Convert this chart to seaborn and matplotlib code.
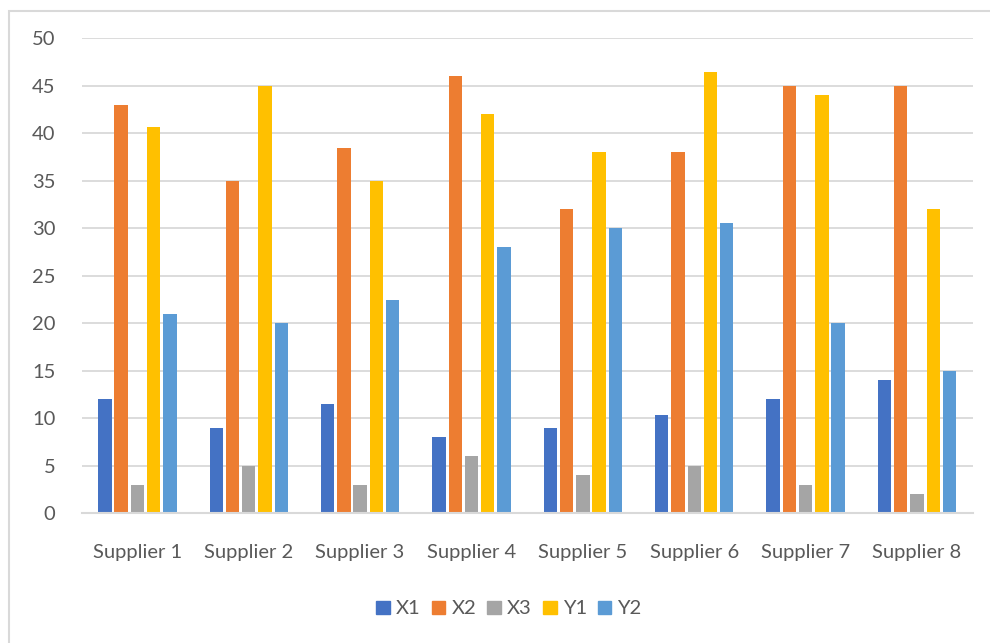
import matplotlib
matplotlib.use("Agg")
import matplotlib.pyplot as plt
import matplotlib.patches as mpatches
import seaborn as sns
import pandas as pd

suppliers = ["Supplier 1", "Supplier 2", "Supplier 3", "Supplier 4",
             "Supplier 5", "Supplier 6", "Supplier 7", "Supplier 8"]
series_names = ["X1", "X2", "X3", "Y1", "Y2"]
x1 = [12, 9, 11.5, 8, 9, 10.3, 12, 14]
x2 = [43, 35, 38.5, 46, 32, 38, 45, 45]
x3 = [3, 5, 3, 6, 4, 5, 3, 2]
y1 = [40.7, 45, 35, 42, 38, 46.5, 44, 32]
y2 = [21, 20, 22.5, 28, 30, 30.6, 20, 15]
colors = ["#4472C4", "#ED7D31", "#A5A5A5", "#FFC000", "#5B9BD5"]
y_ticks = [0, 5, 10, 15, 20, 25, 30, 35, 40, 45, 50]

rows = []
for name, vals in zip(series_names, [x1, x2, x3, y1, y2]):
    for sup, v in zip(suppliers, vals):
        rows.append({"Supplier": sup, "Series": name, "Value": v})
df = pd.DataFrame(rows)

sns.set_theme(style="white")
plt.rcParams["font.family"] = ["Lato", "DejaVu Sans"]

text_color = "#595959"
grid_color = "#D9D9D9"
fs = 14.5

fig = plt.figure(figsize=(9.9, 6.43), dpi=100)
ax = fig.add_axes([0.0825, 0.2017, 0.9, 0.7387])

sns.barplot(data=df, x="Supplier", y="Value", hue="Series",
            order=suppliers, hue_order=series_names, palette=colors,
            width=0.73, gap=0.18, linewidth=0, saturation=1,
            ax=ax, legend=False)

ax.set_ylim(0, 50)
ax.set_xlim(-0.5, len(suppliers) - 0.5)
ax.set_yticks(y_ticks)
ax.yaxis.grid(True, color=grid_color, linewidth=1.3)
ax.set_axisbelow(True)
for side in ["left", "right", "top"]:
    ax.spines[side].set_visible(False)
ax.spines["bottom"].set_color(grid_color)
ax.spines["bottom"].set_linewidth(1.5)
ax.set_xlabel("")
ax.set_ylabel("")
ax.tick_params(axis="y", length=0, pad=19, labelsize=fs, labelcolor=text_color)
ax.tick_params(axis="x", length=0, pad=22, labelsize=fs, labelcolor=text_color)

handles = [mpatches.Patch(color=c, label=n) for c, n in zip(colors, series_names)]
fig.legend(handles=handles, loc="center", bbox_to_anchor=(509 / 990, 1 - 609 / 643),
           ncol=5, frameon=False, fontsize=fs, labelcolor=text_color,
           handlelength=0.68, handleheight=0.68, handletextpad=0.3,
           columnspacing=0.55)

# outer chart frame
frame = mpatches.Rectangle((9 / 990, -0.2), 1.2, 0.983 + 0.2,
                           transform=fig.transFigure, fill=False,
                           edgecolor=grid_color, linewidth=1.5)
fig.patches.append(frame)

fig.savefig("out.png", dpi=100)
